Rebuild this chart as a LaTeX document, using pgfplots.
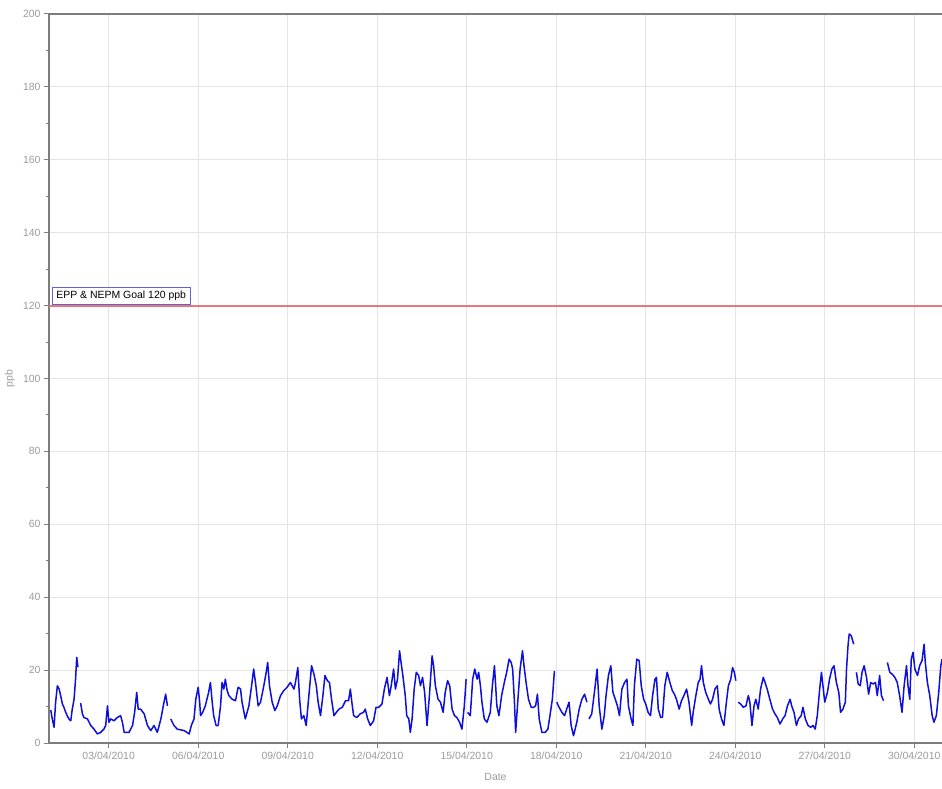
\documentclass[border=0pt]{standalone}
\usepackage{fontspec}
\setmainfont{Liberation Sans}
\usepackage{pgfplots}
\pgfplotsset{compat=1.18}
\definecolor{gridc}{RGB}{228,228,228}
\definecolor{axc}{RGB}{125,125,125}
\definecolor{lblc}{RGB}{155,155,155}
\definecolor{goal}{RGB}{232,118,128}
\definecolor{boxc}{RGB}{100,100,200}
\definecolor{series}{RGB}{15,15,220}
\begin{document}
\begin{tikzpicture}
\begin{axis}[name=ax, scale only axis, width=893bp, height=729bp,
  xmin=1, xmax=30.93, ymin=0, ymax=200,
  axis x line*=bottom, axis y line*=left,
  axis line style={axc, line width=1.8bp, -},
  xtick={3,6,...,30},
  xticklabels={03/04/2010,06/04/2010,09/04/2010,12/04/2010,15/04/2010,18/04/2010,21/04/2010,24/04/2010,27/04/2010,30/04/2010},
  ytick={0,20,...,200}, minor y tick num=1,
  tick align=outside, tick style={axc, line width=1bp},
  major tick length=5bp, minor tick length=3bp,
  xmajorgrids, ymajorgrids, major grid style={gridc, line width=1bp},
  ticklabel style={font=\fontsize{10.5}{12}\selectfont, text=lblc},
  /pgf/number format/assume math mode=true,
  xlabel={Date}, ylabel={ppb},
  label style={font=\fontsize{10.5}{12}\selectfont, text=lblc},
  xlabel style={at={(axis description cs:0.5,-0.0466)}, anchor=center},
  ylabel style={at={(axis description cs:-0.0437,0.5)}, anchor=center},
  unbounded coords=jump, clip=false]
\draw[axc, line width=1.6bp] (rel axis cs:0,1) -- (rel axis cs:1,1);
\addplot[goal, line width=2bp] coordinates {(1,120) (30.93,120)};
\node[draw=boxc, fill=white, anchor=south west, inner xsep=4bp, inner ysep=3.5bp,
  font=\fontsize{10.5}{12}\selectfont, text=black, line width=0.8bp] at (axis cs:1.1,120.3) {EPP \& NEPM Goal 120 ppb};
\addplot[series, line width=1.5bp, line join=round] table {
x y
1.06 9
1.11 6.6
1.17 4.3
1.22 11
1.28 15.7
1.34 14.8
1.39 13
1.45 10.7
1.50 9.8
1.56 8.4
1.61 7.5
1.67 6.6
1.73 6.1
1.78 9.3
1.84 12
1.89 17.5
1.93 23.5
1.97 20.8
2.01 nan
2.06 11
2.12 8
2.17 7
2.29 6.6
2.40 4.8
2.51 3.8
2.62 2.5
2.73 2.9
2.84 3.8
2.90 4.8
2.96 10.2
3.01 5.7
3.07 6.6
3.18 6.1
3.29 7
3.40 7.5
3.46 5.7
3.52 2.9
3.68 2.9
3.80 4.8
3.87 8.4
3.94 13.9
3.99 9.3
4.07 9.3
4.19 8
4.30 4.8
4.41 3.4
4.52 4.8
4.63 2.9
4.75 6.6
4.83 10.2
4.91 13.4
4.97 10.2
5.02 nan
5.08 6.6
5.19 4.8
5.30 3.8
5.53 3.4
5.70 2.5
5.77 4.8
5.86 6.6
5.92 12
6.00 15.3
6.05 11.2
6.08 7.5
6.15 8.4
6.24 10.2
6.35 13.9
6.41 16.6
6.47 11.2
6.52 7.5
6.60 4.8
6.67 4.8
6.75 10.2
6.80 16.6
6.86 14.8
6.91 17.5
6.97 14.4
7.03 13
7.14 12
7.25 11.6
7.34 15.3
7.42 14.8
7.47 11.2
7.58 6.6
7.70 10.2
7.79 15.7
7.86 20.3
7.92 16.6
8.01 10.2
8.09 11.2
8.20 15.7
8.28 19.4
8.33 22.1
8.39 15.7
8.48 11.2
8.57 8.9
8.65 10.2
8.76 13
8.87 14.4
8.98 15.3
9.09 16.6
9.21 14.8
9.26 16.6
9.34 20.7
9.40 12
9.46 6.6
9.54 7.5
9.62 4.8
9.69 11.2
9.74 15.7
9.80 21.2
9.88 18.9
9.96 15.7
10.02 11.2
10.10 7.5
10.18 13
10.25 18.5
10.33 17.1
10.40 16.6
10.47 12
10.55 7.5
10.63 8.4
10.72 9.3
10.83 9.8
10.94 11.6
11.04 11.6
11.10 14.8
11.15 11.2
11.21 7.5
11.32 7
11.43 8
11.54 8.4
11.60 9.3
11.68 6.6
11.77 4.8
11.88 6.1
11.96 9.8
12.05 9.8
12.16 10.7
12.24 14.8
12.33 18
12.41 13
12.47 15.7
12.55 20.3
12.61 14.8
12.68 17.5
12.75 25.3
12.80 22.1
12.86 18.5
12.94 13
12.99 7.5
13.06 6.6
13.11 2.9
13.17 6.6
13.24 14.8
13.31 19.4
13.39 18.5
13.45 15.7
13.52 18
13.59 13.9
13.67 4.8
13.75 13
13.84 23.9
13.89 21.2
13.95 15.7
14.04 12
14.12 11.2
14.21 8.4
14.28 13.9
14.36 17.1
14.43 15.7
14.51 9.3
14.59 7.5
14.67 7
14.76 5.7
14.84 3.8
14.92 10.2
14.98 17.5
15.00 nan
15.03 8.4
15.12 7.5
15.20 17.5
15.27 20.3
15.35 17.5
15.40 19.4
15.46 15.7
15.51 11.2
15.59 6.6
15.68 5.7
15.79 8.4
15.86 15.7
15.93 21.2
16.01 10.2
16.08 7.5
16.17 13
16.26 16.6
16.34 19.4
16.42 23
16.49 22.1
16.54 20.3
16.60 11.2
16.64 2.9
16.71 11.2
16.79 20.3
16.87 25.3
16.92 21.2
16.99 16.6
17.07 12
17.16 9.8
17.24 9.8
17.31 10.2
17.37 13.4
17.43 6.6
17.52 2.9
17.63 2.9
17.72 3.8
17.79 7.5
17.87 12
17.94 19.8
17.98 nan
18.02 11.2
18.07 10.2
18.19 8.4
18.28 7.5
18.35 9.3
18.43 11.2
18.50 4.8
18.58 2
18.69 5.7
18.77 9.3
18.86 12
18.95 13.4
19.03 11.2
19.06 nan
19.10 6.6
19.19 8
19.28 13.9
19.37 20.3
19.44 10.2
19.53 3.8
19.61 7.5
19.67 13
19.75 18.5
19.83 21.2
19.90 13.9
19.98 12
20.05 10.2
20.12 7.5
20.20 14.8
20.29 16.6
20.37 17.5
20.42 10.2
20.51 6.6
20.57 4.8
20.62 15.7
20.70 23
20.78 22.6
20.85 15.7
20.93 12
21.00 10.7
21.08 8.4
21.16 7.5
21.23 13
21.31 17.5
21.36 18
21.42 9.3
21.50 7
21.56 7
21.64 15.7
21.72 19.4
21.81 16.6
21.89 14.4
21.96 13.4
22.03 12
22.12 9.3
22.20 11.6
22.28 13
22.37 14.8
22.45 11.2
22.54 4.8
22.59 8.4
22.68 13
22.76 16.6
22.82 17.5
22.87 21.2
22.93 16.6
23.01 13.9
23.10 12
23.17 10.7
23.24 12
23.32 14.8
23.40 15.7
23.46 9.3
23.54 6.6
23.62 4.8
23.69 10.2
23.77 15.7
23.85 17.5
23.91 20.7
23.97 19.4
24.02 17.1
24.06 nan
24.10 11.2
24.18 10.7
24.27 9.8
24.36 10.2
24.44 13
24.49 11.2
24.56 4.8
24.63 10.2
24.69 12
24.77 9.3
24.85 14.8
24.94 18
25.00 16.6
25.07 14.8
25.16 12
25.25 9.3
25.33 8
25.41 7
25.50 5.2
25.59 6.6
25.67 7.5
25.75 10.2
25.84 12
25.89 10.2
25.97 8.4
26.05 4.8
26.12 6.6
26.21 7.5
26.27 9.8
26.35 6.6
26.44 4.8
26.53 4.3
26.61 4.8
26.68 3.8
26.75 7.5
26.83 14.8
26.89 19.4
26.94 15.7
27.00 11.2
27.09 13.9
27.16 17.5
27.24 20.3
27.31 21.2
27.39 16.6
27.47 13.9
27.53 8.4
27.61 9.3
27.69 11.2
27.73 20.3
27.78 26.7
27.82 29.9
27.89 29.4
27.97 27.1
28.01 nan
28.06 19.4
28.12 16.2
28.19 15.7
28.25 19.4
28.32 21.2
28.40 18
28.47 13.4
28.54 16.6
28.62 16.2
28.70 16.6
28.76 13
28.84 18.5
28.90 13
28.97 11.6
29.03 nan
29.10 22.1
29.18 19.4
29.26 18.9
29.35 18
29.43 16.6
29.51 13
29.59 8.4
29.66 15.7
29.74 21.2
29.79 15.7
29.85 12
29.90 23
29.96 24.9
30.02 20.3
30.11 18.5
30.18 21.2
30.26 22.6
30.33 27.1
30.37 22.1
30.44 16.6
30.52 13
30.60 7.5
30.66 5.7
30.74 7.5
30.82 13.9
30.89 21.2
30.93 23
};
\end{axis}
\pgfresetboundingbox
\path[use as bounding box] ([shift={(-49bp,-46bp)}]ax.south west) rectangle ([shift={(0bp,14bp)}]ax.north east);
\end{tikzpicture}
\end{document}
